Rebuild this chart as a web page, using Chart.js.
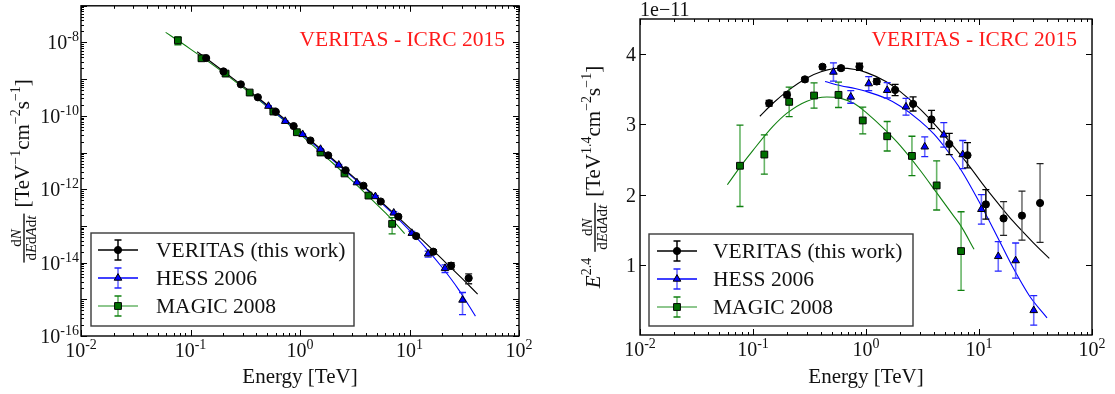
<!DOCTYPE html>
<html>
<head>
<meta charset="utf-8">
<script src="https://cdn.jsdelivr.net/npm/chart.js@4.4.0/dist/chart.umd.min.js"></script>
<style>
  html, body { margin: 0; padding: 0; background: #fff; }
  #wrap { position: relative; width: 1115px; height: 394px; }
  .panel { position: absolute; top: 0; height: 394px; }
  #p1 { left: 0; width: 557px; }
  #p2 { left: 557px; width: 558px; }
</style>
</head>
<body>
<div id="wrap">
  <div class="panel" id="p1"><canvas id="c1"></canvas></div>
  <div class="panel" id="p2"><canvas id="c2"></canvas></div>
</div>
<script>
const SERIF = '"Liberation Serif", serif';

// energies in TeV, E^2.4 weighted flux in units of 1e-11 TeV^1.4 cm^-2 s^-1
const veritasE   = [0.139, 0.200, 0.288, 0.412, 0.601, 0.875, 1.245, 1.81, 2.61, 3.80, 5.46, 7.91, 11.5, 16.5, 24.0, 34.7];
const veritasF   = [3.30, 3.42, 3.64, 3.82, 3.80, 3.82, 3.61, 3.49, 3.29, 3.07, 2.72, 2.56, 1.86, 1.66, 1.70, 1.88];
const veritasErr = [0.04, 0.04, 0.03, 0.03, 0.03, 0.05, 0.04, 0.08, 0.10, 0.13, 0.15, 0.18, 0.21, 0.24, 0.35, 0.56];

const hessE   = [0.515, 0.733, 1.057, 1.54, 2.26, 3.31, 4.88, 7.18, 10.5, 14.8, 21.1, 30.5];
const hessF   = [3.745, 3.39, 3.58, 3.485, 3.25, 2.68, 2.85, 2.57, 1.79, 1.12, 1.06, 0.35];
const hessErr = [0.13, 0.09, 0.10, 0.11, 0.12, 0.14, 0.175, 0.20, 0.21, 0.21, 0.25, 0.21];

const magicE   = [0.0767, 0.126, 0.209, 0.347, 0.571, 0.936, 1.54, 2.55, 4.22, 6.94];
const magicF   = [2.41, 2.57, 3.32, 3.41, 3.42, 3.055, 2.83, 2.55, 2.13, 1.195];
const magicErr = [0.58, 0.28, 0.21, 0.18, 0.18, 0.19, 0.21, 0.28, 0.35, 0.56];

// fitted spectra
const veritasFitE = [0.115, 0.15, 0.2, 0.3, 0.4, 0.6, 0.8, 1, 1.5, 2, 3, 4, 6, 8, 11, 15, 20, 30, 41.9];
const veritasFitF = [3.115, 3.30, 3.47, 3.66, 3.75, 3.80, 3.78, 3.74, 3.61, 3.47, 3.22, 3.01, 2.68, 2.43, 2.13, 1.86, 1.62, 1.32, 1.09];
const hessFitE = [0.434, 0.6, 0.8, 1, 1.5, 2, 3, 4, 5, 7, 10, 14, 20, 28, 40];
const hessFitF = [3.61, 3.55, 3.51, 3.47, 3.37, 3.26, 3.05, 2.86, 2.67, 2.34, 1.90, 1.45, 0.96, 0.555, 0.243];
const magicFitE = [0.0593, 0.08, 0.1, 0.15, 0.2, 0.3, 0.45, 0.6, 0.8, 1, 1.5, 2, 3, 4.2, 6, 7, 9.04];
const magicFitF = [2.14, 2.43, 2.63, 2.97, 3.16, 3.33, 3.39, 3.37, 3.29, 3.17, 2.91, 2.70, 2.35, 2.03, 1.69, 1.54, 1.22];

const seriesNames = ['VERITAS (this work)', 'HESS 2006', 'MAGIC 2008'];
const xTickVals = [0.01, 0.1, 1, 10, 100];
const xTickExp = ['-2', '-1', '0', '1', '2'];
const leftYTickExp = [-8, -10, -12, -14, -16];
const rightYTicks = [1, 2, 3, 4];
const tagText = 'VERITAS - ICRC 2015';

const SER = [
  { E: veritasE, F: veritasF, err: veritasErr, fitE: veritasFitE, fitF: veritasFitF },
  { E: hessE, F: hessF, err: hessErr, fitE: hessFitE, fitF: hessFitF },
  { E: magicE, F: magicF, err: magicErr, fitE: magicFitE, fitF: magicFitF },
];
const STY = [
  { marker: 'circle', r: 3.6, fill: '#000', edge: '#000', line: '#000', bar: '#111', cap: '#000' },
  { marker: 'triangle', r: 4.4, fill: '#0000ff', edge: '#000', line: '#0000ff', bar: 'rgba(60,60,255,0.75)', cap: '#2222ff' },
  { marker: 'rect', r: 4.8, fill: '#007000', edge: '#000', line: '#108010', bar: 'rgba(40,150,40,0.7)', cap: '#108010' },
];

// ---- rich text helpers (superscripts, fractions) ----
function segFont(s) { return (s.it ? 'italic ' : '') + s.size + 'px ' + SERIF; }
function measure(ctx, segs) {
  let w = 0;
  for (const s of segs) {
    if (s.frac) w += Math.max(measure(ctx, s.frac[0]), measure(ctx, s.frac[1])) + 4;
    else if (s.gap) w += s.gap;
    else { ctx.font = segFont(s); w += ctx.measureText(s.t).width; }
  }
  return w;
}
function drawRich(ctx, segs, x, y) {
  for (const s of segs) {
    if (s.frac) {
      const wn = measure(ctx, s.frac[0]), wd = measure(ctx, s.frac[1]);
      const w = Math.max(wn, wd) + 4;
      const ly = y - 5;
      drawRich(ctx, s.frac[0], x + (w - wn) / 2, ly - 3);
      drawRich(ctx, s.frac[1], x + (w - wd) / 2, ly + 12);
      ctx.fillRect(x, ly - 0.7, w, 1.4);
      x += w;
    } else if (s.gap) {
      x += s.gap;
    } else {
      ctx.font = segFont(s);
      ctx.fillText(s.t, x, y + (s.dy || 0));
      x += ctx.measureText(s.t).width;
    }
  }
  return x;
}
const pow10 = (e) => [{ t: '10', size: 20 }, { t: e, size: 14, dy: -8 }];
const fracSegs = { frac: [
  [{ t: 'd', size: 15 }, { t: 'N', size: 15, it: true }],
  [{ t: 'd', size: 15 }, { t: 'E', size: 15, it: true }, { t: 'd', size: 15 }, { t: 'A', size: 15, it: true }, { t: 'd', size: 15 }, { t: 't', size: 15, it: true }]
] };
const leftTitle = [fracSegs, { gap: 6 },
  { t: '[TeV', size: 21 }, { t: '−1', size: 14, dy: -9 }, { t: 'cm', size: 21 }, { t: '−2', size: 14, dy: -9 },
  { t: 's', size: 21 }, { t: '−1', size: 14, dy: -9 }, { t: ']', size: 21 }];
const rightTitle = [{ t: 'E', size: 21, it: true }, { t: '2.4', size: 14, dy: -9 }, { gap: 6 }, fracSegs, { gap: 6 },
  { t: '[TeV', size: 21 }, { t: '1.4', size: 14, dy: -9 }, { t: 'cm', size: 21 }, { t: '−2', size: 14, dy: -9 },
  { t: 's', size: 21 }, { t: '−1', size: 14, dy: -9 }, { t: ']', size: 21 }];

function errBar(ctx, x, y1, y2, st, grey) {
  ctx.strokeStyle = grey ? 'rgba(90,90,90,0.85)' : st.bar;
  ctx.lineWidth = 1.6;
  ctx.beginPath(); ctx.moveTo(x, y1); ctx.lineTo(x, y2); ctx.stroke();
  ctx.strokeStyle = grey ? '#222' : st.cap;
  ctx.lineWidth = 1.3;
  ctx.beginPath();
  ctx.moveTo(x - 3.5, y1); ctx.lineTo(x + 3.5, y1);
  ctx.moveTo(x - 3.5, y2); ctx.lineTo(x + 3.5, y2);
  ctx.stroke();
}

function makeChart(id, P) {
  const conv = (e, v) => P.weighted ? v : v * 1e-11 / Math.pow(e, 2.4);
  const datasets = [];
  SER.forEach((s, k) => {
    const st = STY[k];
    datasets.push({
      data: s.E.map((e, i) => ({ x: e, y: conv(e, s.F[i]) })),
      showLine: false, pointStyle: st.marker, pointRadius: st.r,
      backgroundColor: st.fill, borderColor: st.edge, pointBorderWidth: 1,
    });
  });
  SER.forEach((s, k) => {
    const st = STY[k];
    datasets.push({
      data: s.fitE.map((e, i) => ({ x: e, y: conv(e, s.fitF[i]) })),
      showLine: true, pointRadius: 0, borderColor: st.line, borderWidth: 1.1,
      cubicInterpolationMode: 'monotone',
    });
  });

  const deco = {
    id: 'deco',
    beforeDatasetDraw(chart, args) {
      if (args.index > 2) return;
      const k = args.index, s = SER[k], st = STY[k];
      const { ctx, chartArea: a, scales: { x, y } } = chart;
      ctx.save();
      ctx.beginPath(); ctx.rect(a.left, a.top, a.right - a.left, a.bottom - a.top); ctx.clip();
      s.E.forEach((e, i) => {
        const px = x.getPixelForValue(e);
        const y1 = y.getPixelForValue(conv(e, s.F[i] + s.err[i]));
        const y2 = y.getPixelForValue(conv(e, s.F[i] - s.err[i]));
        errBar(ctx, px, y1, y2, st, k === 0 && e > 15);
      });
      ctx.restore();
    },
    afterDraw(chart) {
      const { ctx, chartArea: a, scales: { x, y } } = chart;
      ctx.save();
      // ticks on all four sides, pointing inwards
      ctx.strokeStyle = '#000'; ctx.lineWidth = 1;
      ctx.beginPath();
      const vt = (px, len) => { px = Math.round(px) + 0.5; ctx.moveTo(px, a.bottom); ctx.lineTo(px, a.bottom - len); ctx.moveTo(px, a.top); ctx.lineTo(px, a.top + len); };
      const ht = (py, len) => { py = Math.round(py) + 0.5; ctx.moveTo(a.left, py); ctx.lineTo(a.left + len, py); ctx.moveTo(a.right, py); ctx.lineTo(a.right - len, py); };
      for (let d = -2; d <= 2; d++) for (let m = 1; m <= 9; m++) {
        const v = m * Math.pow(10, d);
        if (v > 100.001) break;
        vt(x.getPixelForValue(v), m === 1 ? 6 : 3);
      }
      if (P.weighted) {
        rightYTicks.forEach(v => ht(y.getPixelForValue(v), 6));
      } else {
        for (let d = -16; d <= -7; d++) for (let m = 1; m <= 9; m++) {
          const v = m * Math.pow(10, d);
          if (v > 1.0001e-7) break;
          ht(y.getPixelForValue(v), m === 1 ? 6 : 3);
        }
      }
      ctx.stroke();
      ctx.lineWidth = 1.4;
      ctx.strokeRect(a.left, a.top, a.right - a.left, a.bottom - a.top);

      ctx.fillStyle = '#111';
      ctx.textBaseline = 'alphabetic';
      // x tick labels
      xTickVals.forEach((v, i) => {
        const segs = pow10(xTickExp[i]);
        const w = measure(ctx, segs);
        drawRich(ctx, segs, x.getPixelForValue(v) - w / 2, a.bottom + 21);
      });
      // y tick labels
      if (P.weighted) {
        rightYTicks.forEach(v => {
          ctx.font = '20px ' + SERIF;
          ctx.textAlign = 'right';
          ctx.fillText(String(v), a.left - 4, y.getPixelForValue(v) + 7);
          ctx.textAlign = 'left';
        });
        ctx.font = '20px ' + SERIF;
        ctx.fillText('1e\u221211', a.left, a.top - 3);
      } else {
        leftYTickExp.forEach(e => {
          const segs = pow10(String(e));
          const w = measure(ctx, segs);
          drawRich(ctx, segs, a.left - 2 - w, y.getPixelForValue(Math.pow(10, e)) + 7);
        });
      }
      // axis titles
      ctx.font = '21px ' + SERIF;
      ctx.textAlign = 'center';
      ctx.fillText('Energy [TeV]', (a.left + a.right) / 2, 383);
      ctx.textAlign = 'left';
      const tSegs = P.weighted ? rightTitle : leftTitle;
      ctx.save();
      ctx.translate(P.titleX, (a.top + a.bottom) / 2);
      ctx.rotate(-Math.PI / 2);
      drawRich(ctx, tSegs, -measure(ctx, tSegs) / 2, 0);
      ctx.restore();

      // red tag
      ctx.fillStyle = '#ff1a1a';
      ctx.font = '21.5px ' + SERIF;
      ctx.textAlign = 'right';
      ctx.fillText(tagText, a.right - P.tagInset, 46);
      ctx.textAlign = 'left';

      // legend
      const L = P.legend;
      ctx.fillStyle = '#fff';
      ctx.fillRect(L.x, L.y, L.w, L.h);
      ctx.strokeStyle = '#3a3a3a'; ctx.lineWidth = 1.4;
      ctx.strokeRect(L.x, L.y, L.w, L.h);
      seriesNames.forEach((name, k) => {
        const st = STY[k];
        const cy = L.y + 17 + k * 28;
        const cx = L.mx;
        ctx.strokeStyle = k === 2 ? 'rgba(40,150,40,0.7)' : st.line; ctx.lineWidth = 1.4;
        ctx.beginPath(); ctx.moveTo(cx - 20, cy); ctx.lineTo(cx + 20, cy); ctx.stroke();
        errBar(ctx, cx, cy - 10, cy + 10, st, false);
        ctx.fillStyle = st.fill; ctx.strokeStyle = st.edge; ctx.lineWidth = 1;
        Chart.helpers.drawPoint(ctx, { pointStyle: st.marker, radius: st.r, rotation: 0, borderWidth: 1 }, cx, cy);
        ctx.fillStyle = '#111';
        ctx.font = '21.5px ' + SERIF;
        ctx.fillText(name, L.tx, cy + 7);
      });
      ctx.restore();
    }
  };

  return new Chart(document.getElementById(id), {
    type: 'scatter',
    data: { datasets },
    options: {
      responsive: true, maintainAspectRatio: false, animation: false, devicePixelRatio: 1,
      layout: { padding: P.pad },
      plugins: { legend: { display: false }, tooltip: { enabled: false } },
      scales: {
        x: {
          type: 'logarithmic', min: 0.01, max: 100,
          ticks: { display: false }, grid: { display: false }, border: { display: false },
          afterFit: (sc) => { sc.height = P.xh; },
        },
        y: P.weighted ? {
          type: 'linear', min: 0, max: 4.5,
          ticks: { display: false }, grid: { display: false }, border: { display: false },
          afterFit: (sc) => { sc.width = P.yw; },
        } : {
          type: 'logarithmic', min: 1e-16, max: 1e-7,
          ticks: { display: false }, grid: { display: false }, border: { display: false },
          afterFit: (sc) => { sc.width = P.yw; },
        },
      },
    },
    plugins: [deco],
  });
}

makeChart('c1', {
  weighted: false, pad: { top: 3, right: 38, left: 0, bottom: 0 }, xh: 58, yw: 81,
  titleX: 29, tagInset: 14,
  legend: { x: 91, y: 233, w: 263, h: 93, mx: 118, tx: 156 },
});
makeChart('c2', {
  weighted: true, pad: { top: 19, right: 23, left: 0, bottom: 0 }, xh: 59, yw: 83,
  titleX: 43, tagInset: 15,
  legend: { x: 92, y: 234, w: 264, h: 92, mx: 120, tx: 156 },
});
</script>
</body>
</html>
